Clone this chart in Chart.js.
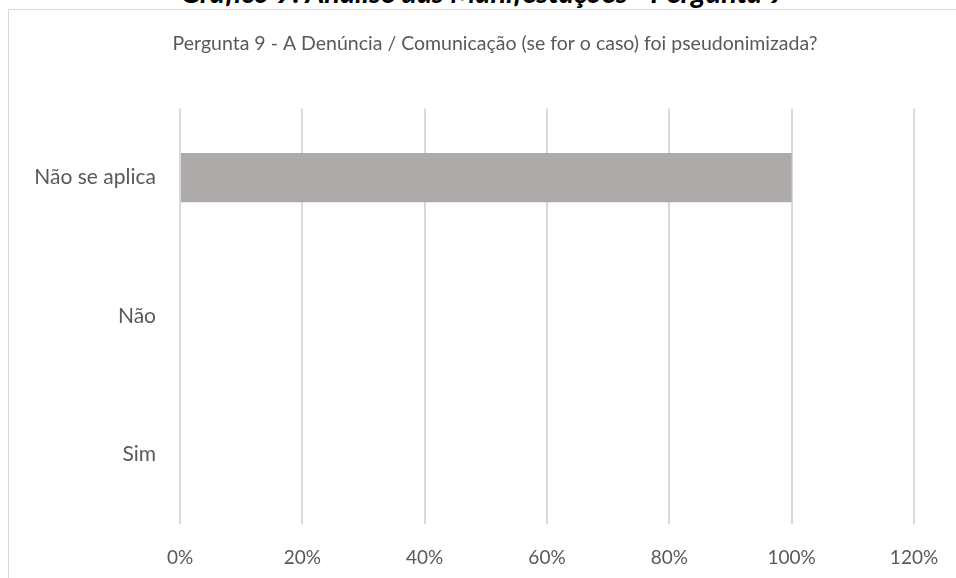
<!DOCTYPE html>
<html>
<head>
<meta charset="utf-8">
<script src="https://cdn.jsdelivr.net/npm/chart.js@4"></script>
<style>
  body { margin: 0; background: #fff; overflow: hidden; width: 956px; height: 578px; position: relative; }
  #tituloTopo {
    position: absolute; left: 0; width: 966px; top: -25px;
    text-align: center; font-family: Lato, sans-serif; font-weight: bold; font-style: italic;
    font-size: 29px; line-height: 34.8px; color: #000; white-space: nowrap;
  }
  #caixa {
    position: absolute; left: 8px; top: 9px; width: 972px; height: 600px;
    border: 1px solid #d9d9d9; box-sizing: border-box;
  }
  #caixa canvas { position: absolute; left: 0; top: 0; }
</style>
</head>
<body>
<div id="tituloTopo">Gráfico 9: Análise das Manifestações - Pergunta 9</div>
<div id="caixa"><canvas id="graficoPergunta9" width="972" height="600"></canvas></div>
<script>
// dados do gráfico
var categorias = ['Não se aplica', 'Não', 'Sim'];
var valores = [1, 0, 0];
var tituloGrafico = 'Pergunta 9 - A Denúncia / Comunicação (se for o caso) foi pseudonimizada?';

var ctxPergunta9 = document.getElementById('graficoPergunta9').getContext('2d');

var dataPergunta9 = {
    labels: categorias,
    datasets: [{
        data: valores,
        backgroundColor: '#aeaaaa',
        borderWidth: 0,
        categoryPercentage: 1,
        barPercentage: 0.355
    }]
};

var optionsPergunta9 = {
    indexAxis: 'y',
    responsive: false,
    animation: false,
    layout: {
        padding: { left: 0, right: 0, top: 0, bottom: 26 }
    },
    scales: {
        x: {
            min: 0,
            max: 1.2,
            ticks: {
                stepSize: 0.2,
                color: '#595959',
                padding: 22,
                font: { family: 'Lato', size: 19 },
                callback: function (v) { return Math.round(v * 100) + '%'; }
            },
            grid: {
                color: '#d9d9d9',
                lineWidth: 2,
                drawTicks: false
            },
            border: { display: false },
            afterFit: function (scale) { scale.height = 60; }
        },
        y: {
            ticks: {
                color: '#595959',
                padding: 24,
                font: { family: 'Lato', size: 21 }
            },
            grid: { display: false, drawTicks: false },
            border: { display: false },
            afterFit: function (scale) { scale.width = 171; }
        },
        // eixo vazio à direita só para reservar espaço (título fica centrado na caixa)
        yVazio: {
            type: 'linear',
            position: 'right',
            ticks: { display: false },
            grid: { display: false, drawTicks: false },
            border: { display: false },
            afterFit: function (scale) { scale.width = 67; }
        }
    },
    plugins: {
        legend: { display: false },
        tooltip: { enabled: false },
        title: {
            display: true,
            text: tituloGrafico,
            color: '#595959',
            font: { family: 'Lato', size: 19.5, weight: 'normal' },
            padding: { top: 22, bottom: 53 }
        }
    }
};

var Pergunta9 = new Chart(ctxPergunta9, {
    type: 'bar',
    data: dataPergunta9,
    options: optionsPergunta9
});
</script>
</body>
</html>
